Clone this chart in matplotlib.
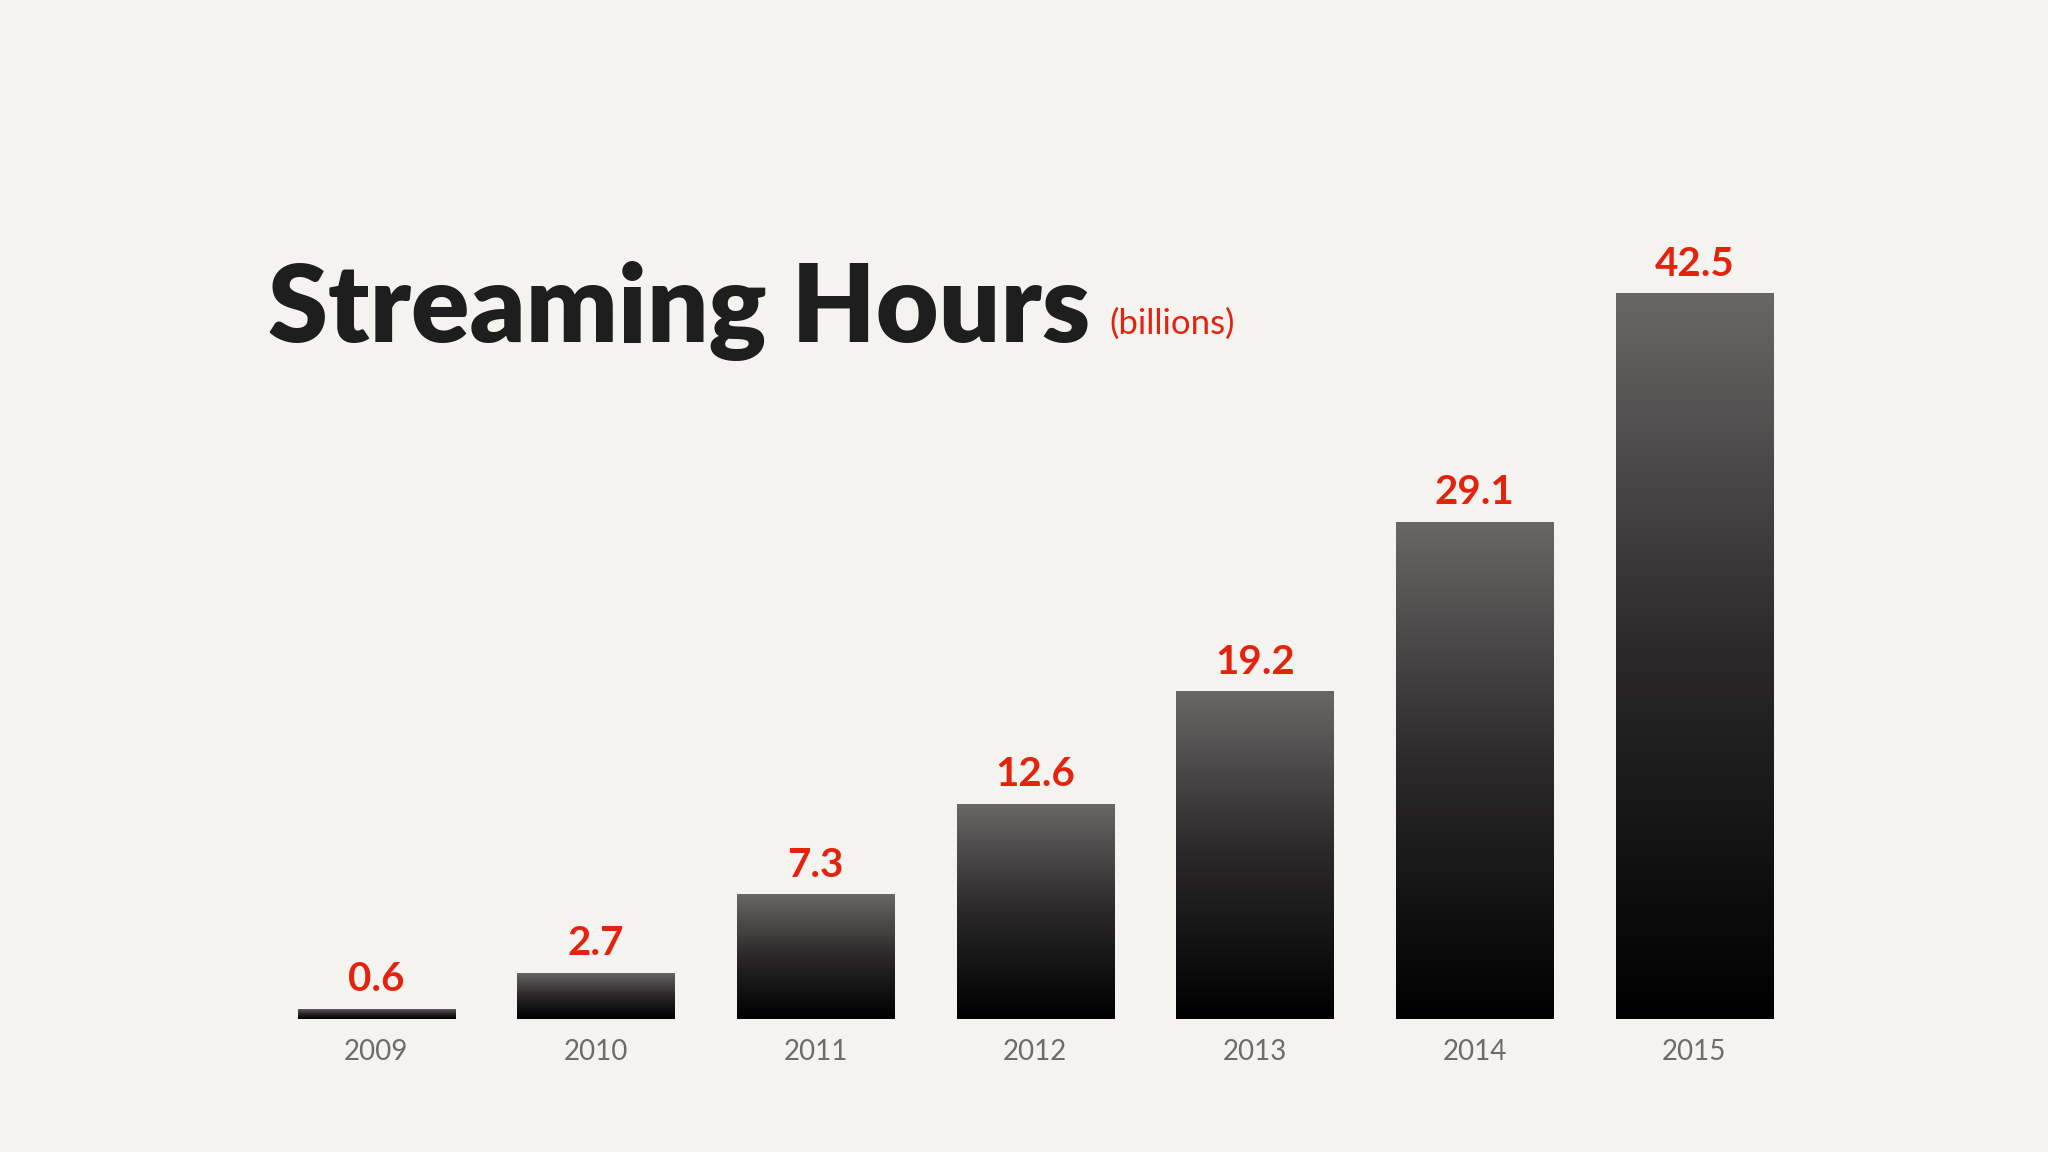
import numpy as np
import matplotlib
matplotlib.use("Agg")
import matplotlib.pyplot as plt
from matplotlib.colors import LinearSegmentedColormap

# ── Data ───────────────────────────────────────────────
years = ["2009", "2010", "2011", "2012", "2013", "2014", "2015"]
hours = [0.6, 2.7, 7.3, 12.6, 19.2, 29.1, 42.5]

BG = "#f4f3f0"
RED = "#e4230f"

fig = plt.figure(figsize=(20.48, 11.52), dpi=100, facecolor=BG)
ax = fig.add_axes([0.130, 0.1156, 0.751, 0.7415])
ax.set_facecolor(BG)
ax.set_xlim(-0.5, len(years) - 0.5)
ax.set_ylim(0, 50)

cmap = LinearSegmentedColormap.from_list("g", ["#000000", "#2a2828", "#696766"])
grad = np.linspace(0, 1, 256).reshape(-1, 1)
bw = 0.715

for i, (yr, v) in enumerate(zip(years, hours)):
    bar = ax.bar(i, v, width=bw, color="none", edgecolor="none")[0]
    im = ax.imshow(grad, cmap=cmap, aspect="auto", origin="lower",
                   extent=[i - bw / 2, i + bw / 2, 0, v], zorder=2)
    im.set_clip_path(bar)
    ax.text(i, v + 0.6, f"{v}", ha="center", va="bottom", color=RED,
            fontsize=29, fontweight="bold", family=["Lato", "DejaVu Sans"])
    ax.text(i, -1.2, yr, ha="center", va="top", color="#6e6c6a",
            fontsize=20, family=["Lato", "DejaVu Sans"])

ax.set_xlim(-0.5, len(years) - 0.5)
ax.set_ylim(0, 50)
ax.axis("off")

t = fig.text(0.131, 0.703, "Streaming Hours", fontsize=78, fontweight="heavy",
             color="#1e1e1e", family=["Lato", "DejaVu Sans"], va="baseline")
fig.canvas.draw()
bb = t.get_window_extent().transformed(fig.transFigure.inverted())
fig.text(bb.x1 + 0.009, 0.71, "(billions)", fontsize=25, color=RED,
         family=["Lato", "DejaVu Sans"], va="baseline")

fig.savefig("out.png", dpi=100, facecolor=BG)
